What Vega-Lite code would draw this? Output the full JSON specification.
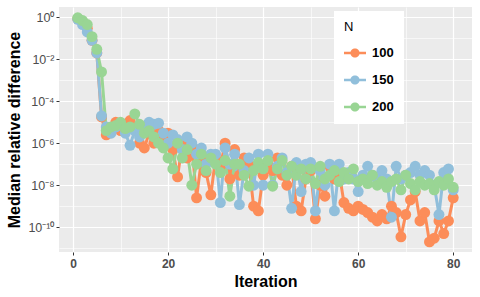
{
  "$schema": "https://vega.github.io/schema/vega-lite/v6.json",
  "width": 413,
  "height": 245,
  "autosize": {"type": "none"},
  "padding": {"left": 59, "top": 7, "right": 8, "bottom": 45},
  "background": "white",
  "config": {
    "font": "Liberation Sans",
    "view": {"fill": "#EBEBEB", "stroke": null},
    "axis": {"domain": false, "tickColor": "#333333", "tickSize": 3, "labelColor": "#4D4D4D", "gridColor": "white", "titleColor": "black", "titleFontSize": 16, "titleFontWeight": "bold"}
  },
  "data": {"values": [
    {"i":1,"N":"100","v":0.85},{"i":2,"N":"100","v":0.6},{"i":3,"N":"100","v":0.3},{"i":4,"N":"100","v":0.08},{"i":5,"N":"100","v":0.02},
    {"i":6,"N":"100","v":1.8e-5},{"i":7,"N":"100","v":2.5e-6},{"i":8,"N":"100","v":5e-6},{"i":9,"N":"100","v":1e-5},{"i":10,"N":"100","v":4e-6},
    {"i":11,"N":"100","v":8e-6},{"i":12,"N":"100","v":1.2e-5},{"i":13,"N":"100","v":5e-6},{"i":14,"N":"100","v":1e-6},{"i":15,"N":"100","v":6e-7},
    {"i":16,"N":"100","v":3e-6},{"i":17,"N":"100","v":1e-6},{"i":18,"N":"100","v":4e-6},{"i":19,"N":"100","v":2e-6},{"i":20,"N":"100","v":3e-6},
    {"i":21,"N":"100","v":5e-7},{"i":22,"N":"100","v":2.5e-8},{"i":23,"N":"100","v":1e-6},{"i":24,"N":"100","v":2e-7},{"i":25,"N":"100","v":8e-7},
    {"i":26,"N":"100","v":2.5e-9},{"i":27,"N":"100","v":1.5e-7},{"i":28,"N":"100","v":4e-8},{"i":29,"N":"100","v":3.5e-9},{"i":30,"N":"100","v":2e-7},
    {"i":31,"N":"100","v":8e-8},{"i":32,"N":"100","v":1e-6},{"i":33,"N":"100","v":2e-8},{"i":34,"N":"100","v":5e-7},{"i":35,"N":"100","v":3e-8},
    {"i":36,"N":"100","v":2e-7},{"i":37,"N":"100","v":1e-7},{"i":38,"N":"100","v":1e-9},{"i":39,"N":"100","v":6e-10},{"i":40,"N":"100","v":3e-8},
    {"i":41,"N":"100","v":1e-7},{"i":42,"N":"100","v":5e-8},{"i":43,"N":"100","v":2e-7},{"i":44,"N":"100","v":3e-8},{"i":45,"N":"100","v":1e-8},
    {"i":46,"N":"100","v":8e-8},{"i":47,"N":"100","v":1e-9},{"i":48,"N":"100","v":6e-10},{"i":49,"N":"100","v":2e-8},{"i":50,"N":"100","v":5e-8},
    {"i":51,"N":"100","v":2.5e-10},{"i":52,"N":"100","v":1e-8},{"i":53,"N":"100","v":3e-9},{"i":54,"N":"100","v":8e-8},{"i":55,"N":"100","v":2e-8},
    {"i":56,"N":"100","v":4e-8},{"i":57,"N":"100","v":1.5e-9},{"i":58,"N":"100","v":8e-10},{"i":59,"N":"100","v":6e-10},{"i":60,"N":"100","v":1e-9},
    {"i":61,"N":"100","v":7e-10},{"i":62,"N":"100","v":5e-10},{"i":63,"N":"100","v":3e-10},{"i":64,"N":"100","v":2e-10},{"i":65,"N":"100","v":4e-10},
    {"i":66,"N":"100","v":2.5e-10},{"i":67,"N":"100","v":1e-9},{"i":68,"N":"100","v":5e-10},{"i":69,"N":"100","v":3.5e-11},{"i":70,"N":"100","v":4e-10},
    {"i":71,"N":"100","v":2e-9},{"i":72,"N":"100","v":5e-9},{"i":73,"N":"100","v":2e-10},{"i":74,"N":"100","v":5e-10},{"i":75,"N":"100","v":2e-11},
    {"i":76,"N":"100","v":3e-11},{"i":77,"N":"100","v":2e-10},{"i":78,"N":"100","v":5e-11},{"i":79,"N":"100","v":2e-10},{"i":80,"N":"100","v":2.5e-9},

    {"i":1,"N":"150","v":0.8},{"i":2,"N":"150","v":0.45},{"i":3,"N":"150","v":0.2},{"i":4,"N":"150","v":0.08},{"i":5,"N":"150","v":0.02},
    {"i":6,"N":"150","v":2e-5},{"i":7,"N":"150","v":6e-6},{"i":8,"N":"150","v":3e-6},{"i":9,"N":"150","v":6e-6},{"i":10,"N":"150","v":8e-6},
    {"i":11,"N":"150","v":3e-6},{"i":12,"N":"150","v":8e-7},{"i":13,"N":"150","v":4e-6},{"i":14,"N":"150","v":2e-6},{"i":15,"N":"150","v":5e-6},
    {"i":16,"N":"150","v":1e-5},{"i":17,"N":"150","v":8e-6},{"i":18,"N":"150","v":9e-6},{"i":19,"N":"150","v":3e-6},{"i":20,"N":"150","v":1e-6},
    {"i":21,"N":"150","v":2.5e-6},{"i":22,"N":"150","v":1.5e-6},{"i":23,"N":"150","v":5e-7},{"i":24,"N":"150","v":2e-6},{"i":25,"N":"150","v":1e-6},
    {"i":26,"N":"150","v":3e-7},{"i":27,"N":"150","v":6e-7},{"i":28,"N":"150","v":1e-7},{"i":29,"N":"150","v":3e-7},{"i":30,"N":"150","v":3e-7},
    {"i":31,"N":"150","v":1.5e-9},{"i":32,"N":"150","v":6e-7},{"i":33,"N":"150","v":1e-7},{"i":34,"N":"150","v":3e-7},{"i":35,"N":"150","v":1.2e-9},
    {"i":36,"N":"150","v":5e-8},{"i":37,"N":"150","v":2e-7},{"i":38,"N":"150","v":1e-8},{"i":39,"N":"150","v":3e-7},{"i":40,"N":"150","v":1e-8},
    {"i":41,"N":"150","v":3e-7},{"i":42,"N":"150","v":1e-8},{"i":43,"N":"150","v":8e-8},{"i":44,"N":"150","v":2e-7},{"i":45,"N":"150","v":4e-8},
    {"i":46,"N":"150","v":8e-10},{"i":47,"N":"150","v":1.2e-7},{"i":48,"N":"150","v":5e-9},{"i":49,"N":"150","v":1e-7},{"i":50,"N":"150","v":1.2e-7},
    {"i":51,"N":"150","v":6e-10},{"i":52,"N":"150","v":5e-8},{"i":53,"N":"150","v":1e-8},{"i":54,"N":"150","v":1e-7},{"i":55,"N":"150","v":6e-10},
    {"i":56,"N":"150","v":1e-7},{"i":57,"N":"150","v":2e-8},{"i":58,"N":"150","v":4e-8},{"i":59,"N":"150","v":2e-8},{"i":60,"N":"150","v":5e-9},
    {"i":61,"N":"150","v":3e-8},{"i":62,"N":"150","v":8e-8},{"i":63,"N":"150","v":3e-8},{"i":64,"N":"150","v":2e-8},{"i":65,"N":"150","v":5e-8},
    {"i":66,"N":"150","v":2e-8},{"i":67,"N":"150","v":3e-10},{"i":68,"N":"150","v":8e-8},{"i":69,"N":"150","v":2e-8},{"i":70,"N":"150","v":3e-8},
    {"i":71,"N":"150","v":4e-8},{"i":72,"N":"150","v":8e-8},{"i":73,"N":"150","v":3e-8},{"i":74,"N":"150","v":5e-8},{"i":75,"N":"150","v":3e-8},
    {"i":76,"N":"150","v":1e-8},{"i":77,"N":"150","v":4e-10},{"i":78,"N":"150","v":4e-8},{"i":79,"N":"150","v":6e-8},{"i":80,"N":"150","v":6e-9},

    {"i":1,"N":"200","v":0.95},{"i":2,"N":"200","v":0.7},{"i":3,"N":"200","v":0.45},{"i":4,"N":"200","v":0.12},{"i":5,"N":"200","v":0.03},
    {"i":6,"N":"200","v":2.5e-3},{"i":7,"N":"200","v":4e-6},{"i":8,"N":"200","v":6e-6},{"i":9,"N":"200","v":7e-6},{"i":10,"N":"200","v":1e-5},
    {"i":11,"N":"200","v":5e-6},{"i":12,"N":"200","v":6e-6},{"i":13,"N":"200","v":2.5e-5},{"i":14,"N":"200","v":8e-6},{"i":15,"N":"200","v":3e-6},
    {"i":16,"N":"200","v":4e-6},{"i":17,"N":"200","v":2e-6},{"i":18,"N":"200","v":1e-6},{"i":19,"N":"200","v":6e-7},{"i":20,"N":"200","v":2e-7},
    {"i":21,"N":"200","v":6e-8},{"i":22,"N":"200","v":1e-6},{"i":23,"N":"200","v":2e-7},{"i":24,"N":"200","v":5e-7},{"i":25,"N":"200","v":1e-8},
    {"i":26,"N":"200","v":1e-7},{"i":27,"N":"200","v":3e-7},{"i":28,"N":"200","v":5e-8},{"i":29,"N":"200","v":2e-7},{"i":30,"N":"200","v":1e-7},
    {"i":31,"N":"200","v":4e-8},{"i":32,"N":"200","v":1.5e-7},{"i":33,"N":"200","v":3e-9},{"i":34,"N":"200","v":1e-7},{"i":35,"N":"200","v":1e-7},
    {"i":36,"N":"200","v":3e-8},{"i":37,"N":"200","v":9e-9},{"i":38,"N":"200","v":5e-8},{"i":39,"N":"200","v":1.2e-7},{"i":40,"N":"200","v":6e-8},
    {"i":41,"N":"200","v":1.5e-7},{"i":42,"N":"200","v":9e-9},{"i":43,"N":"200","v":6e-8},{"i":44,"N":"200","v":1.5e-7},{"i":45,"N":"200","v":3e-8},
    {"i":46,"N":"200","v":8e-8},{"i":47,"N":"200","v":3e-8},{"i":48,"N":"200","v":6e-8},{"i":49,"N":"200","v":2e-8},{"i":50,"N":"200","v":6e-8},
    {"i":51,"N":"200","v":1.2e-8},{"i":52,"N":"200","v":8e-8},{"i":53,"N":"200","v":2e-8},{"i":54,"N":"200","v":3e-8},{"i":55,"N":"200","v":5e-8},
    {"i":56,"N":"200","v":1.5e-8},{"i":57,"N":"200","v":4e-8},{"i":58,"N":"200","v":2e-8},{"i":59,"N":"200","v":6e-8},{"i":60,"N":"200","v":1.5e-8},
    {"i":61,"N":"200","v":2e-8},{"i":62,"N":"200","v":1.2e-8},{"i":63,"N":"200","v":3e-8},{"i":64,"N":"200","v":1e-8},{"i":65,"N":"200","v":1.5e-8},
    {"i":66,"N":"200","v":8e-9},{"i":67,"N":"200","v":1.5e-8},{"i":68,"N":"200","v":2e-8},{"i":69,"N":"200","v":6e-9},{"i":70,"N":"200","v":3e-8},
    {"i":71,"N":"200","v":1.2e-8},{"i":72,"N":"200","v":6e-9},{"i":73,"N":"200","v":1.5e-8},{"i":74,"N":"200","v":1e-8},{"i":75,"N":"200","v":1.2e-8},
    {"i":76,"N":"200","v":6e-9},{"i":77,"N":"200","v":1.5e-8},{"i":78,"N":"200","v":1e-8},{"i":79,"N":"200","v":2e-8},{"i":80,"N":"200","v":8e-9}
  ]},
  "encoding": {
    "x": {
      "field": "i", "type": "quantitative", "title": "Iteration",
      "scale": {"domain": [-2.95, 83.95], "nice": false, "zero": false},
      "axis": {
        "values": [0, 10, 20, 30, 40, 50, 60, 70, 80],
        "labelExpr": "datum.value % 20 == 0 ? datum.label : ''",
        "labelFontSize": 12, "labelFontWeight": "bold", "labelPadding": 3,
        "tickOpacity": {"condition": {"test": "datum.value % 20 == 0", "value": 1}, "value": 0},
        "gridWidth": {"condition": {"test": "datum.value % 20 == 0", "value": 1.2}, "value": 0.6},
        "titleY": 34, "titleBaseline": "alphabetic"
      }
    },
    "y": {
      "field": "v", "type": "quantitative", "title": "Median relative difference",
      "scale": {"type": "log", "domain": [6.6e-12, 3.09], "nice": false},
      "axis": {
        "values": [1e-11, 1e-10, 1e-9, 1e-8, 1e-7, 1e-6, 1e-5, 1e-4, 1e-3, 1e-2, 1e-1, 1],
        "labelExpr": "round(log(datum.value)/LN10) == 0 ? '10⁰' : round(log(datum.value)/LN10) == -2 ? '10⁻²' : round(log(datum.value)/LN10) == -4 ? '10⁻⁴' : round(log(datum.value)/LN10) == -6 ? '10⁻⁶' : round(log(datum.value)/LN10) == -8 ? '10⁻⁸' : round(log(datum.value)/LN10) == -10 ? '10⁻¹⁰' : ''",
        "labelFontSize": 12.5, "labelPadding": 2,
        "tickOpacity": {"condition": {"test": "round(log(datum.value)/LN10) % 2 == 0", "value": 1}, "value": 0},
        "gridWidth": {"condition": {"test": "round(log(datum.value)/LN10) % 2 == 0", "value": 1.2}, "value": 0.6},
        "titleX": -45, "titleY": 122.5, "titleAngle": 270, "titleBaseline": "middle", "titleAlign": "center"
      }
    },
    "color": {
      "field": "N", "type": "nominal",
      "scale": {"domain": ["100", "150", "200"], "range": ["#FC8D59", "#91BFDB", "#99D594"]},
      "legend": {
        "orient": "none", "legendX": 275, "legendY": 4,
        "fillColor": "white", "padding": 10,
        "titleFontSize": 13, "titleFontWeight": "normal", "titleColor": "black", "titlePadding": 8,
        "labelFontSize": 13, "labelFontWeight": "bold", "labelColor": "black", "labelOffset": 6,
        "symbolType": "M-1,-0.12L1,-0.12L1,0.12L-1,0.12Z M0.42,0A0.42,0.42 0 1,1 -0.42,0A0.42,0.42 0 1,1 0.42,0Z",
        "symbolSize": 484, "symbolStrokeWidth": 0, "symbolOpacity": 1, "rowPadding": 9
      }
    }
  },
  "layer": [
    {"mark": {"type": "line", "strokeWidth": 3}},
    {"mark": {"type": "point", "filled": true, "size": 120, "opacity": 1}}
  ]
}
